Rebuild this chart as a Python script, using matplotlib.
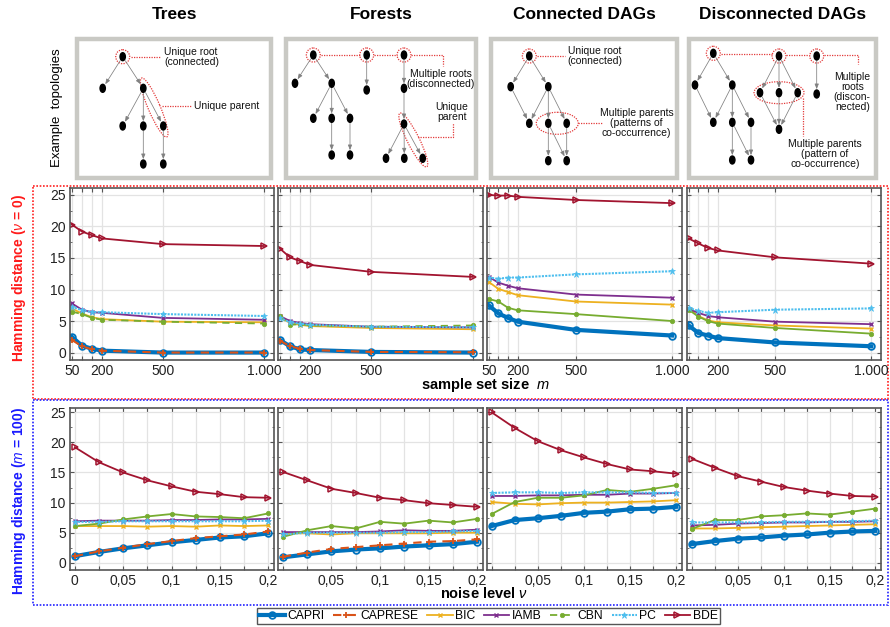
import matplotlib
matplotlib.use('Agg')
import matplotlib.pyplot as plt
from matplotlib.lines import Line2D
from matplotlib.patches import Ellipse, Rectangle
from matplotlib.ticker import FixedLocator, FixedFormatter, MultipleLocator

plt.rcParams['font.family'] = ['Liberation Sans', 'DejaVu Sans']
plt.rcParams['mathtext.fontset'] = 'custom'
plt.rcParams['mathtext.rm'] = 'Liberation Sans'
plt.rcParams['mathtext.it'] = 'Liberation Sans:italic'
plt.rcParams['mathtext.bf'] = 'Liberation Sans:bold'

W, H = 890, 627

METHODS = ['CAPRI', 'CAPRESE', 'BIC', 'IAMB', 'CBN', 'PC', 'BDE']
TOPOLOGIES = ['Trees', 'Forests', 'Connected DAGs', 'Disconnected DAGs']

sample_sizes = [50, 100, 150, 200, 500, 1000]
sample_ticks = [50, 200, 500, 1000]
sample_ticklabels = ['50', '200', '500', '1.000']
noise_levels = [0, 0.025, 0.05, 0.075, 0.1, 0.125, 0.15, 0.175, 0.2]
noise_ticks = [0, 0.05, 0.1, 0.15, 0.2]
noise_ticklabels = ['0', '0,05', '0,1', '0,15', '0,2']

# Hamming distance vs sample set size (noise = 0)
trees_m = {
    'CAPRI':   [2.5, 1.1, 0.6, 0.3, 0.0, 0.0],
    'CAPRESE': [2.0, 1.0, 0.5, 0.3, 0.0, 0.0],
    'BIC':     [7.0, 6.2, 5.6, 5.3, 4.9, 4.8],
    'IAMB':    [7.8, 6.8, 6.4, 6.3, 5.5, 5.2],
    'CBN':     [6.5, 6.1, 5.5, 5.2, 4.9, 4.6],
    'PC':      [7.3, 6.7, 6.4, 6.4, 6.1, 5.8],
    'BDE':     [20.3, 19.2, 18.6, 18.1, 17.2, 16.9],
}
forests_m = {
    'CAPRI':   [2.0, 1.0, 0.5, 0.4, 0.1, 0.0],
    'CAPRESE': [1.9, 1.0, 0.6, 0.4, 0.1, 0.05],
    'BIC':     [5.6, 4.7, 4.4, 4.2, 3.9, 3.7],
    'IAMB':    [5.8, 5.0, 4.7, 4.5, 4.1, 4.0],
    'CBN':     [5.8, 4.4, 4.5, 4.3, 4.1, 4.3],
    'PC':      [5.5, 4.8, 4.6, 4.4, 4.1, 4.0],
    'BDE':     [16.5, 15.1, 14.5, 13.9, 12.8, 12.0],
}
connected_m = {
    'CAPRI':   [7.5, 6.2, 5.5, 4.9, 3.6, 2.7],
    'BIC':     [11.2, 10.1, 9.6, 9.1, 8.1, 7.6],
    'IAMB':    [12.0, 11.1, 10.6, 10.2, 9.2, 8.7],
    'CBN':     [8.5, 8.1, 7.1, 6.7, 6.1, 5.0],
    'PC':      [11.9, 11.7, 11.9, 11.9, 12.4, 12.9],
    'BDE':     [25.0, 24.9, 24.9, 24.7, 24.2, 23.7],
}
disconnected_m = {
    'CAPRI':   [4.3, 3.1, 2.7, 2.3, 1.6, 1.0],
    'BIC':     [6.9, 5.8, 5.1, 4.8, 4.3, 3.8],
    'IAMB':    [6.9, 6.3, 5.8, 5.6, 4.9, 4.5],
    'CBN':     [6.8, 5.7, 5.0, 4.6, 3.9, 3.0],
    'PC':      [7.1, 6.6, 6.3, 6.4, 6.8, 7.0],
    'BDE':     [18.1, 17.3, 16.6, 16.2, 15.1, 14.1],
}

# Hamming distance vs noise level (m = 100)
trees_nu = {
    'CAPRI':   [1.1, 1.8, 2.4, 2.9, 3.4, 3.8, 4.2, 4.4, 4.9],
    'CAPRESE': [1.1, 1.9, 2.5, 3.1, 3.6, 4.1, 4.4, 4.7, 5.2],
    'BIC':     [6.1, 6.1, 6.1, 6.0, 6.1, 6.0, 6.2, 6.1, 6.2],
    'IAMB':    [6.9, 7.0, 7.0, 7.0, 7.1, 7.1, 7.2, 7.2, 7.3],
    'CBN':     [6.1, 6.5, 7.2, 7.7, 8.1, 7.7, 7.6, 7.4, 8.2],
    'PC':      [6.8, 6.8, 6.9, 6.9, 6.9, 6.9, 6.9, 6.9, 7.0],
    'BDE':     [19.2, 16.7, 15.0, 13.7, 12.7, 11.8, 11.4, 10.9, 10.8],
}
forests_nu = {
    'CAPRI':   [0.9, 1.4, 1.9, 2.2, 2.4, 2.7, 2.9, 3.1, 3.5],
    'CAPRESE': [1.0, 1.7, 2.3, 2.6, 2.9, 3.2, 3.5, 3.6, 3.9],
    'BIC':     [4.9, 4.9, 4.7, 4.9, 4.9, 4.9, 4.9, 5.0, 5.0],
    'IAMB':    [5.1, 5.1, 5.1, 5.1, 5.2, 5.4, 5.3, 5.3, 5.5],
    'CBN':     [4.3, 5.4, 6.1, 5.7, 6.8, 6.5, 7.0, 6.7, 7.3],
    'PC':      [4.7, 5.0, 5.0, 5.0, 5.0, 5.1, 5.1, 5.2, 5.3],
    'BDE':     [15.1, 13.7, 12.3, 11.6, 10.8, 10.4, 9.9, 9.6, 9.3],
}
connected_nu = {
    'CAPRI':   [6.1, 7.1, 7.4, 7.8, 8.3, 8.5, 8.9, 9.0, 9.3],
    'BIC':     [10.1, 9.8, 9.7, 9.9, 10.0, 10.0, 10.1, 10.2, 10.4],
    'IAMB':    [11.1, 11.1, 11.2, 11.2, 11.3, 11.3, 11.5, 11.5, 11.6],
    'CBN':     [8.1, 10.1, 10.8, 10.8, 11.2, 12.1, 11.8, 12.3, 12.9],
    'PC':      [11.6, 11.7, 11.7, 11.6, 11.7, 11.7, 11.7, 11.6, 11.6],
    'BDE':     [25.0, 22.4, 20.2, 18.7, 17.5, 16.4, 15.5, 15.2, 14.8],
}
disconnected_nu = {
    'CAPRI':   [3.1, 3.6, 4.0, 4.2, 4.5, 4.7, 5.0, 5.2, 5.3],
    'BIC':     [5.7, 5.7, 5.8, 5.9, 6.0, 6.1, 6.2, 6.3, 6.4],
    'IAMB':    [6.2, 6.3, 6.5, 6.6, 6.7, 6.7, 6.8, 6.8, 6.9],
    'CBN':     [5.6, 7.1, 7.1, 7.7, 7.9, 8.2, 8.0, 8.5, 9.0],
    'PC':      [6.7, 6.7, 6.7, 6.7, 6.8, 6.8, 6.8, 6.9, 7.0],
    'BDE':     [17.3, 15.8, 14.4, 13.5, 12.6, 12.0, 11.5, 11.1, 11.0],
}

STYLE = {
    'CAPRI':   dict(color='#0072BD', lw=3.0, ls='-', marker='o', ms=4.8, mfc='none', mew=1.3),
    'CAPRESE': dict(color='#D95319', lw=1.5, ls=(0, (4, 3)), marker='+', ms=5, mew=1.3),
    'BIC':     dict(color='#EDB120', lw=1.3, ls='-', marker='x', ms=3, mew=1.0),
    'IAMB':    dict(color='#7E2F8E', lw=1.3, ls='-', marker='x', ms=3, mew=1.0),
    'CBN':     dict(color='#77AC30', lw=1.3, ls=(0, (4, 3)), marker='o', ms=3.2, mew=0.5),
    'PC':      dict(color='#4DBEEE', lw=1.5, ls=(0, (1, 0.6)), marker='*', ms=4.5, mew=0.5),
    'BDE':     dict(color='#A2142F', lw=1.3, ls='-', marker='>', ms=4.5, mfc='none', mew=1.1),
}

GRID = '#e3e3e3'
SPINE = '#555555'


def px_axes(fig, x0, y0, x1, y1, **kw):
    return fig.add_axes([x0 / W, 1 - y1 / H, (x1 - x0) / W, (y1 - y0) / H], **kw)


def style_axes(ax, xlim, ylim, gridx, ticks, ticklabels, shown, show_y):
    ax.set_xlim(*xlim)
    ax.set_ylim(*ylim)
    ax.xaxis.set_major_locator(FixedLocator(gridx))
    labels = []
    for g in gridx:
        lab = ''
        for t, tl in zip(ticks, ticklabels):
            if abs(g - t) < 1e-9 and tl in shown:
                lab = tl
        labels.append(lab)
    ax.xaxis.set_major_formatter(FixedFormatter(labels))
    ax.yaxis.set_major_locator(MultipleLocator(5))
    ax.yaxis.set_minor_locator(MultipleLocator(2.5))
    if not show_y:
        ax.set_yticklabels([])
    ax.grid(True, which='major', color=GRID, lw=0.9)
    ax.set_axisbelow(True)
    ax.tick_params(which='both', direction='in', top=True, right=True,
                   color=SPINE, labelsize=10, labelcolor='#222222', pad=3)
    ax.tick_params(which='major', length=3)
    ax.tick_params(which='minor', length=1.5)
    for s in ax.spines.values():
        s.set_color(SPINE)
        s.set_linewidth(1.2)


fig = plt.figure(figsize=(W / 100, H / 100), dpi=100)

# background layer in pixel units for the topology sketches and frames
bg = fig.add_axes([0, 0, 1, 1])
bg.set_xlim(0, W)
bg.set_ylim(H, 0)
bg.axis('off')

BOXES = [(77, 39, 271, 178), (286, 39, 476, 178), (491, 39, 677, 178), (689, 39, 876, 178)]
for (x0, y0, x1, y1), title in zip(BOXES, TOPOLOGIES):
    bg.add_patch(Rectangle((x0, y0), x1 - x0, y1 - y0, fill=False,
                           ec='#c9c9c4', lw=3.2))
    bg.text((x0 + x1) / 2, 19, title, ha='center', va='baseline',
            fontsize=12.5, fontweight='bold')

bg.text(57, 108, 'Example  topologies', rotation=90, ha='center', va='center',
        fontsize=9.5)

# sketch graphs: nodes (pixel layout) and directed edges
graphs = [
    ([(122.7, 56.7), (102.7, 88.3), (143.3, 88.3), (122.7, 126), (143.3, 126),
      (163.3, 126), (143.3, 164), (163.3, 164)],
     [(0, 1), (0, 2), (2, 3), (2, 4), (2, 5), (4, 6), (5, 7)]),
    ([(313.3, 55), (295, 83.3), (331.7, 83.3), (313.3, 118.3), (331.7, 118.3),
      (350, 118.3), (331.7, 155), (350, 155), (366.7, 55), (366.7, 90),
      (404, 55), (404, 88.3), (404, 124), (386, 158.3), (404.3, 158.3), (422.7, 158.3)],
     [(0, 1), (0, 2), (2, 3), (2, 4), (2, 5), (4, 6), (5, 7), (8, 9),
      (10, 11), (11, 12), (12, 13), (12, 14), (12, 15)]),
    ([(529.3, 56), (510.7, 86.7), (548.3, 86.7), (529.3, 123.3), (548.3, 123.3),
      (566.7, 123.3), (548.3, 160.7), (566.7, 160.7)],
     [(0, 1), (0, 2), (1, 3), (2, 3), (2, 4), (2, 5), (4, 6), (4, 7), (5, 7)]),
    ([(713.3, 53.3), (695, 85), (732.3, 85), (713.3, 122.3), (732.3, 122.3),
      (751, 122.3), (732.3, 160), (751, 160), (779, 56), (760, 92.7), (779, 92.7),
      (797.7, 92.7), (779, 129.3), (816.7, 56), (816.7, 94)],
     [(0, 1), (0, 2), (1, 3), (2, 3), (2, 4), (2, 5), (4, 6), (4, 7), (5, 7),
      (8, 9), (8, 10), (8, 11), (9, 12), (10, 12), (11, 12), (13, 14)]),
]
for nodes, edges in graphs:
    for a, b in edges:
        bg.annotate('', xy=nodes[b], xytext=nodes[a],
                    arrowprops=dict(arrowstyle='-|>,head_length=0.3,head_width=0.12',
                                    color='#808080', lw=0.55, shrinkA=3.5, shrinkB=3.5))
    for x, y in nodes:
        bg.add_patch(Ellipse((x, y), 5.3, 8, color='black', zorder=3))

RED = '#e33a3a'
red_ellipses = [
    ((122.7, 56.7), 14, 14, 0), ((154.2, 107.5), 64, 12, 66.8),
    ((313.3, 55), 14, 14, 0), ((366.7, 55), 14, 14, 0), ((404, 55), 14, 14, 0),
    ((413.3, 140), 60, 12, 63.4),
    ((529.3, 56), 14, 14, 0), ((557.3, 123.3), 42, 22, 0),
    ((713.3, 53.3), 14, 14, 0), ((779, 56), 14, 14, 0), ((816.7, 56), 14, 14, 0),
    ((779, 92.7), 50, 22, 0),
]
for c, w, h, ang in red_ellipses:
    bg.add_patch(Ellipse(c, w, h, angle=ang, fill=False, ec=RED, lw=0.9, ls=(0, (1, 1))))

red_paths = [
    [(130.5, 57), (161, 57)], [(162, 106), (192, 106)],
    [(320.5, 55), (359.5, 55)], [(374, 55), (397, 55)],
    [(411, 55), (443.3, 55), (443.3, 66)],
    [(420, 137), (453.3, 137), (453.3, 123)],
    [(536.7, 56), (565, 56)], [(578.3, 123.3), (603.3, 123.3)],
    [(720.5, 54), (771.5, 54)], [(786, 55), (809, 55)],
    [(824, 55), (858.3, 55), (858.3, 64)],
    [(803.3, 98), (803.3, 136)],
]
for p in red_paths:
    xs, ys = zip(*p)
    bg.plot(xs, ys, color=RED, lw=0.9, ls=(0, (1, 1)))

notes = [
    (164, 57, 'Unique root\n(connected)', 'left'),
    (194, 106, 'Unique parent', 'left'),
    (441, 79, 'Multiple roots\n(disconnected)', 'center'),
    (452, 112, 'Unique\nparent', 'center'),
    (567.7, 56, 'Unique root\n(connected)', 'left'),
    (636.7, 122.5, 'Multiple parents\n(patterns of\nco-occurrence)', 'center'),
    (852.3, 92, 'Multiple\nroots\n(discon-\nnected)', 'center'),
    (825, 154, 'Multiple parents\n(pattern of\nco-occurrence)', 'center'),
]
for x, y, s, ha in notes:
    bg.text(x, y, s, ha=ha, va='center', fontsize=7.5, linespacing=1.0,
            multialignment='center' if ha == 'center' else 'left', color='#111111')

# dotted frames around the two rows
bg.add_patch(Rectangle((33, 185.5), 855, 213, fill=False, ec='#ff2020', lw=1.2,
                       ls=(0, (1, 1))))
bg.add_patch(Rectangle((33, 400), 855, 204.5, fill=False, ec='#2020ff', lw=1.2,
                       ls=(0, (1, 1))))

# plot panels
COLS = [(70, 274), (278, 483), (487, 682), (687, 881)]
top_data = [trees_m, forests_m, connected_m, disconnected_m]
bot_data = [trees_nu, forests_nu, connected_nu, disconnected_nu]
top_shown = [['50', '200', '500', '1.000'], ['200', '500'],
             ['50', '200', '500', '1.000'], ['200', '500', '1.000']]
bot_shown = [noise_ticklabels] + [noise_ticklabels[1:]] * 3

for i, (x0, x1) in enumerate(COLS):
    ax = px_axes(fig, x0, 188, x1, 359.5)
    for name in METHODS:
        if name in top_data[i]:
            st = dict(STYLE[name])
            if name == 'CBN' and i >= 2:
                st['ls'] = '-'
            ax.plot(sample_sizes, top_data[i][name], **st)
    style_axes(ax, (41, 1050), (-1.1, 26.1), sample_sizes, sample_ticks,
               sample_ticklabels, top_shown[i], show_y=(i == 0))

    ax = px_axes(fig, x0, 407.5, x1, 570)
    for name in METHODS:
        if name in bot_data[i]:
            st = dict(STYLE[name])
            if name == 'CBN':
                st['ls'] = '-'
            ax.plot(noise_levels, bot_data[i][name], **st)
    style_axes(ax, (-0.005, 0.206), (-1.2, 25.8), noise_levels, noise_ticks,
               noise_ticklabels, bot_shown[i], show_y=(i == 0))

fig.text(19 / W, 1 - 278 / H, r'Hamming distance ($\nu$ = 0)', rotation=90,
         ha='center', va='center', color='#ff1a1a', fontsize=10, fontweight='bold')
fig.text(19 / W, 1 - 501 / H, r'Hamming distance ($m$ = 100)', rotation=90,
         ha='center', va='center', color='#1a1aff', fontsize=10, fontweight='bold')
fig.text(485 / W, 1 - 385 / H, r'sample set size  $m$', ha='center', va='center',
         fontsize=10.5, fontweight='bold')
fig.text(484 / W, 1 - 594 / H, r'noise level $\nu$', ha='center', va='center',
         fontsize=10.5, fontweight='bold')

handles = [Line2D([], [], **STYLE[n]) for n in METHODS]
leg = fig.legend(handles, METHODS, loc='center', bbox_to_anchor=(488.5 / W, 1 - 616 / H),
                 ncol=7, fontsize=8.7, handlelength=2.1, handletextpad=0.2,
                 columnspacing=0.7, borderpad=0.2, fancybox=False, framealpha=1,
                 edgecolor=SPINE, borderaxespad=0)
leg.get_frame().set_linewidth(1.0)

fig.savefig('out.png', dpi=100)
